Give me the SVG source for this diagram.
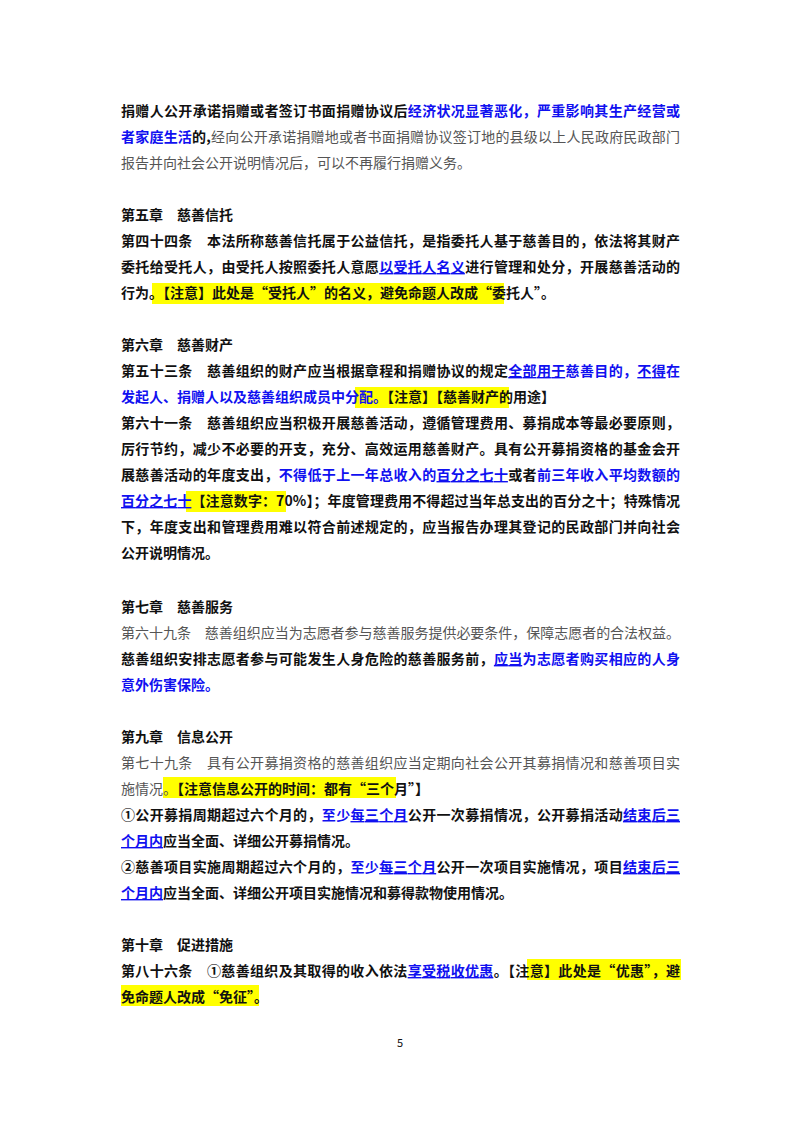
<svg xmlns="http://www.w3.org/2000/svg" width="800" height="1132" viewBox="0 0 800 1132">
<style>
text{font-family:"Noto Sans CJK SC","Liberation Sans",sans-serif;font-size:14px;font-weight:700;fill:#111}
.b{fill:#1010f0}
.g{fill:#555;font-weight:400}
.u{text-decoration:underline}
.hl{fill:#ffff00}
</style>
<rect width="800" height="1132" fill="#fff"/>
<g id="highlights">
<rect class="hl" x="152" y="283" width="352" height="21"/>
<rect class="hl" x="355" y="387" width="154" height="21"/>
<rect class="hl" x="186" y="491" width="100" height="21"/>
<rect class="hl" x="163" y="777" width="233" height="21"/>
<rect class="hl" x="527" y="959" width="154" height="21"/>
<rect class="hl" x="121" y="985" width="138" height="21"/>
</g>
<g id="text">
<text x="121" y="116" textLength="559" lengthAdjust="spacing">捐赠人公开承诺捐赠或者签订书面捐赠协议后<tspan class="b">经济状况显著恶化，严重影响其生产经营或</tspan></text>
<text x="121" y="142" textLength="559" lengthAdjust="spacing"><tspan class="b">者家庭生活</tspan>的,<tspan class="g">经向公开承诺捐赠地或者书面捐赠协议签订地的县级以上人民政府民政部门</tspan></text>
<text x="121" y="168" class="g">报告并向社会公开说明情况后，可以不再履行捐赠义务。</text>

<text x="121" y="220">第五章　慈善信托</text>
<text x="121" y="246" textLength="559" lengthAdjust="spacing">第四十四条　本法所称慈善信托属于公益信托，是指委托人基于慈善目的，依法将其财产</text>
<text x="121" y="272" textLength="559" lengthAdjust="spacing">委托给受托人，由受托人按照委托人意愿<tspan class="b u">以受托人名义</tspan>进行管理和处分，开展慈善活动的</text>
<text x="121" y="298">行为。【注意】此处是“受托人”的名义，避免命题人改成“委托人”。</text>

<text x="121" y="350">第六章　慈善财产</text>
<text x="121" y="376" textLength="559" lengthAdjust="spacing">第五十三条　慈善组织的财产应当根据章程和捐赠协议的规定<tspan class="b"><tspan class="u">全部用于</tspan>慈善目的，<tspan class="u">不得</tspan>在</tspan></text>
<text x="121" y="402"><tspan class="b">发起人、捐赠人以及慈善组织成员中分配。</tspan>【注意】【慈善财产的用途】</text>
<text x="121" y="428" textLength="559" lengthAdjust="spacing">第六十一条　慈善组织应当积极开展慈善活动，遵循管理费用、募捐成本等最必要原则，</text>
<text x="121" y="454" textLength="559" lengthAdjust="spacing">厉行节约，减少不必要的开支，充分、高效运用慈善财产。具有公开募捐资格的基金会开</text>
<text x="121" y="480" textLength="559" lengthAdjust="spacing">展慈善活动的年度支出，<tspan class="b">不得低于上一年总收入的</tspan><tspan class="b u">百分之七十</tspan>或者<tspan class="b">前三年收入平均数额的</tspan></text>
<text x="121" y="506" textLength="559" lengthAdjust="spacing"><tspan class="b u">百分之七十</tspan>【注意数字：70%】；年度管理费用不得超过当年总支出的百分之十；特殊情况</text>
<text x="121" y="532" textLength="559" lengthAdjust="spacing">下，年度支出和管理费用难以符合前述规定的，应当报告办理其登记的民政部门并向社会</text>
<text x="121" y="558">公开说明情况。</text>

<text x="121" y="612">第七章　慈善服务</text>
<text x="121" y="638" class="g" textLength="559" lengthAdjust="spacing">第六十九条　慈善组织应当为志愿者参与慈善服务提供必要条件，保障志愿者的合法权益。</text>
<text x="121" y="664" textLength="559" lengthAdjust="spacing">慈善组织安排志愿者参与可能发生人身危险的慈善服务前，<tspan class="b"><tspan class="u">应当</tspan>为志愿者购买相应的人身</tspan></text>
<text x="121" y="690" class="b">意外伤害保险。</text>

<text x="121" y="742">第九章　信息公开</text>
<text x="121" y="768" class="g" textLength="559" lengthAdjust="spacing">第七十九条　具有公开募捐资格的慈善组织应当定期向社会公开其募捐情况和慈善项目实</text>
<text x="121" y="794"><tspan class="g">施情况。</tspan>【注意信息公开的时间：都有“三个月”】</text>
<text x="121" y="820" textLength="559" lengthAdjust="spacing">①公开募捐周期超过六个月的，<tspan class="b">至少<tspan class="u">每三个月</tspan></tspan>公开一次募捐情况，公开募捐活动<tspan class="b u">结束后三</tspan></text>
<text x="121" y="846"><tspan class="b u">个月内</tspan>应当全面、详细公开募捐情况。</text>
<text x="121" y="872" textLength="559" lengthAdjust="spacing">②慈善项目实施周期超过六个月的，<tspan class="b">至少<tspan class="u">每三个月</tspan></tspan>公开一次项目实施情况，项目<tspan class="b u">结束后三</tspan></text>
<text x="121" y="898"><tspan class="b u">个月内</tspan>应当全面、详细公开项目实施情况和募得款物使用情况。</text>

<text x="121" y="950">第十章　促进措施</text>
<text x="121" y="976" textLength="559" lengthAdjust="spacing">第八十六条　①慈善组织及其取得的收入依法<tspan class="b u">享受税收优惠</tspan>。【注意】此处是“优惠”，避</text>
<text x="121" y="1002">免命题人改成“免征”。</text>

<text x="400" y="1047" text-anchor="middle" style="font-size:11px;font-weight:400">5</text>
</g>
</svg>
